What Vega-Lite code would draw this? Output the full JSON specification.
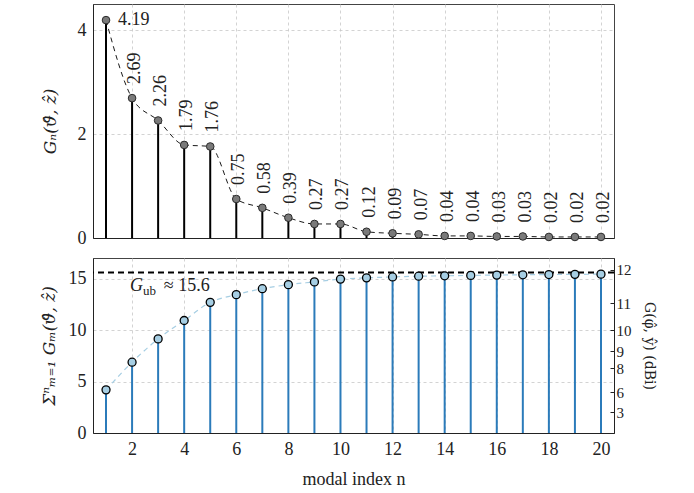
{
  "$schema": "https://vega.github.io/schema/vega-lite/v6.json",
  "padding": {"left": 39, "top": 3, "right": 5, "bottom": 5},
  "config": {
    "font": "Liberation Serif",
    "view": {"stroke": "#444444", "strokeWidth": 1},
    "axis": {
      "labelFont": "Liberation Serif", "titleFont": "DejaVu Serif",
      "labelFontSize": 18, "titleFontSize": 17, "labelColor": "#222222", "titleColor": "#222222",
      "titleFontWeight": "normal", "gridColor": "#c8c8c8", "gridDash": [3, 3], "gridWidth": 0.8,
      "domainColor": "#222222", "ticks": false, "labelPadding": 7
    }
  },
  "datasets": {
    "modes": [
      {"n": 1, "G": 4.19, "cum": 4.19},
      {"n": 2, "G": 2.69, "cum": 6.88},
      {"n": 3, "G": 2.26, "cum": 9.14},
      {"n": 4, "G": 1.79, "cum": 10.93},
      {"n": 5, "G": 1.76, "cum": 12.69},
      {"n": 6, "G": 0.75, "cum": 13.44},
      {"n": 7, "G": 0.58, "cum": 14.02},
      {"n": 8, "G": 0.39, "cum": 14.41},
      {"n": 9, "G": 0.27, "cum": 14.68},
      {"n": 10, "G": 0.27, "cum": 14.95},
      {"n": 11, "G": 0.12, "cum": 15.07},
      {"n": 12, "G": 0.09, "cum": 15.16},
      {"n": 13, "G": 0.07, "cum": 15.23},
      {"n": 14, "G": 0.04, "cum": 15.27},
      {"n": 15, "G": 0.04, "cum": 15.31},
      {"n": 16, "G": 0.03, "cum": 15.34},
      {"n": 17, "G": 0.03, "cum": 15.37},
      {"n": 18, "G": 0.02, "cum": 15.39},
      {"n": 19, "G": 0.02, "cum": 15.41},
      {"n": 20, "G": 0.02, "cum": 15.43}
    ]
  },
  "spacing": 9,
  "vconcat": [
    {
      "width": 521,
      "height": 234,
      "data": {"name": "modes"},
      "encoding": {
        "x": {"field": "n", "type": "quantitative",
          "scale": {"domain": [0.5, 20.5], "nice": false, "zero": false},
          "axis": {"values": [2, 4, 6, 8, 10, 12, 14, 16, 18, 20], "labels": false, "title": null}}
      },
      "layer": [
        {
          "mark": {"type": "rule", "color": "black", "strokeWidth": 2},
          "encoding": {
            "y": {"field": "G", "type": "quantitative", "scale": {"domain": [0, 4.5], "nice": false},
              "axis": {"values": [0, 2, 4], "title": "Gₙ(ϑ̂, ẑ)", "titleFontStyle": "italic", "titlePadding": 18}},
            "y2": {"datum": 0}
          }
        },
        {
          "mark": {"type": "line", "color": "black", "strokeDash": [5, 4], "strokeWidth": 0.9, "interpolate": "monotone"},
          "encoding": {"y": {"field": "G", "type": "quantitative"}}
        },
        {
          "mark": {"type": "circle", "size": 58, "fill": "#7a7a7a", "stroke": "#2a2a2a", "strokeWidth": 1, "opacity": 1},
          "encoding": {"y": {"field": "G", "type": "quantitative"}}
        },
        {
          "transform": [{"filter": "datum.n == 1"}],
          "mark": {"type": "text", "align": "left", "baseline": "middle", "dx": 12, "fontSize": 18, "color": "#222222"},
          "encoding": {"y": {"field": "G", "type": "quantitative"}, "text": {"field": "G", "type": "quantitative", "format": ".2f"}}
        },
        {
          "transform": [{"filter": "datum.n > 1"}],
          "mark": {"type": "text", "angle": 270, "align": "left", "baseline": "middle", "dx": 14, "dy": 3, "fontSize": 18, "color": "#222222"},
          "encoding": {"y": {"field": "G", "type": "quantitative"}, "text": {"field": "G", "type": "quantitative", "format": ".2f"}}
        }
      ]
    },
    {
      "width": 521,
      "height": 175,
      "layer": [
        {
          "layer": [
            {
              "data": {"name": "modes"},
              "mark": {"type": "rule", "color": "#2b7bba", "strokeWidth": 2},
              "encoding": {
                "x": {"field": "n", "type": "quantitative",
                  "scale": {"domain": [0.5, 20.5], "nice": false, "zero": false},
                  "axis": {"values": [2, 4, 6, 8, 10, 12, 14, 16, 18, 20], "title": "modal index n", "titlePadding": 12, "titleFont": "Liberation Serif", "titleFontSize": 18}},
                "y": {"field": "cum", "type": "quantitative", "scale": {"domain": [0, 17], "nice": false},
                  "axis": {"values": [0, 5, 10, 15], "title": "Σⁿₘ₌₁ Gₘ(ϑ̂, ẑ)", "titleFontStyle": "italic", "titlePadding": 10}},
                "y2": {"datum": 0}
              }
            },
            {
              "data": {"name": "modes"},
              "mark": {"type": "line", "color": "#a6cee3", "strokeDash": [5, 4], "strokeWidth": 1.2, "interpolate": "monotone"},
              "encoding": {"x": {"field": "n", "type": "quantitative"}, "y": {"field": "cum", "type": "quantitative"}}
            },
            {
              "data": {"values": [{"Gub": 15.6}]},
              "mark": {"type": "rule", "color": "black", "strokeDash": [6, 4], "strokeWidth": 2},
              "encoding": {"y": {"field": "Gub", "type": "quantitative"}}
            },
            {
              "data": {"name": "modes"},
              "mark": {"type": "circle", "size": 64, "fill": "#a6cee3", "stroke": "black", "strokeWidth": 1.3, "opacity": 1},
              "encoding": {"x": {"field": "n", "type": "quantitative"}, "y": {"field": "cum", "type": "quantitative"}}
            },
            {
              "data": {"values": [{"t": "G"}]},
              "mark": {"type": "text", "align": "left", "baseline": "middle", "fontSize": 18, "fontStyle": "italic", "color": "#222222"},
              "encoding": {"x": {"datum": 1.92}, "y": {"datum": 14.3}, "text": {"field": "t", "type": "nominal"}}
            },
            {
              "data": {"values": [{"t": "ub"}]},
              "mark": {"type": "text", "align": "left", "baseline": "middle", "fontSize": 13, "color": "#222222"},
              "encoding": {"x": {"datum": 2.42}, "y": {"datum": 13.8}, "text": {"field": "t", "type": "nominal"}}
            },
            {
              "data": {"values": [{"t": "≈ 15.6"}]},
              "mark": {"type": "text", "align": "left", "baseline": "middle", "fontSize": 18, "color": "#222222"},
              "encoding": {"x": {"datum": 3.22}, "y": {"datum": 14.3}, "text": {"field": "t", "type": "nominal"}}
            }
          ]
        },
        {
          "data": {"name": "modes"},
          "mark": {"type": "tick", "opacity": 0},
          "encoding": {
            "y": {"field": "cum", "type": "quantitative", "scale": {"domain": [0, 17], "nice": false},
              "axis": {"orient": "right", "values": [1.9953, 3.9811, 6.3096, 7.9433, 10, 12.5893, 15.8489],
                "labelExpr": "format(10 * log(datum.value) / LN10, '.0f')",
                "title": "G(φ̂, ŷ) (dBi)", "grid": false, "labelFontSize": 15, "titleFontSize": 14,
                "labelPadding": 6, "titlePadding": 10, "ticks": true, "tickSize": -4, "tickColor": "#222222"}}
          }
        }
      ],
      "resolve": {"scale": {"y": "independent"}}
    }
  ]
}
